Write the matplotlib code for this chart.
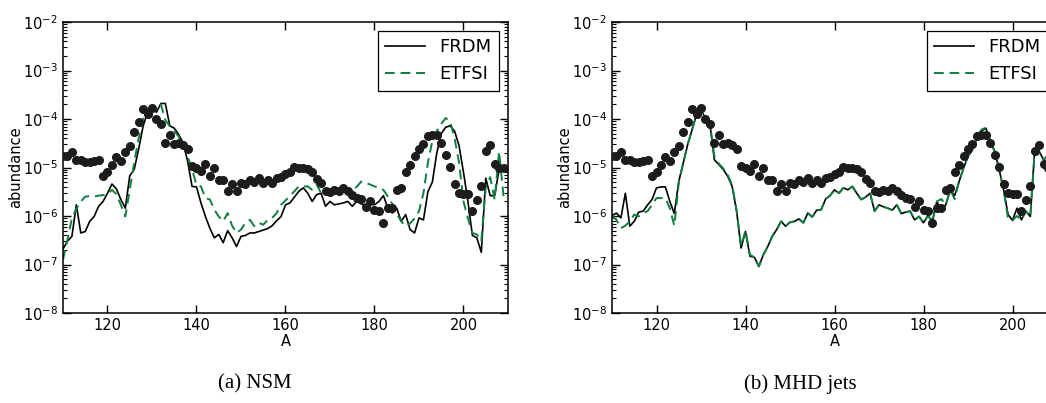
import matplotlib
matplotlib.use("Agg")
import matplotlib.pyplot as plt
import numpy as np
from matplotlib.ticker import LogLocator, NullFormatter

params = {
    "font.family": "DejaVu Sans",
    "font.size": 10.5,
    "xtick.direction": "in",
    "ytick.direction": "in",
    "xtick.top": True,
    "ytick.right": True,
    "axes.linewidth": 1.1,
}
plt.rcParams.update(params)

# mass numbers
A = list(range(110, 210))

# solar r-process abundances (log10)
log_solar = [
    -4.77, -4.77, -4.69, -4.84, -4.84, -4.89, -4.89, -4.87, -4.84, -5.18,
    -5.09, -4.94, -4.79, -4.86, -4.68, -4.56, -4.27, -4.06, -3.79, -3.89,
    -3.77, -4.00, -4.10, -4.49, -4.32, -4.51, -4.50, -4.53, -4.62, -4.96,
    -5.02, -5.07, -4.92, -5.17, -5.01, -5.26, -5.26, -5.49, -5.35, -5.49,
    -5.31, -5.35, -5.26, -5.29, -5.22, -5.31, -5.25, -5.32, -5.22, -5.20,
    -5.13, -5.10, -4.98, -5.01, -5.02, -5.04, -5.10, -5.24, -5.31, -5.49,
    -5.51, -5.46, -5.49, -5.42, -5.49, -5.56, -5.63, -5.65, -5.82, -5.70,
    -5.88, -5.90, -6.14, -5.84, -5.84, -5.46, -5.42, -5.10, -4.94, -4.77,
    -4.62, -4.52, -4.36, -4.34, -4.32, -4.49, -4.74, -4.99, -5.35, -5.53,
    -5.54, -5.55, -5.90, -5.66, -5.39, -4.65, -4.54, -4.93, -5.02, -5.01,
]

# (a) NSM
log_nsm_frdm = [
    -6.68, -6.52, -6.42, -5.77, -6.35, -6.32, -6.11, -6.01, -5.80, -5.70,
    -5.53, -5.34, -5.44, -5.66, -5.84, -5.17, -5.04, -4.62, -4.15, -3.86,
    -3.77, -3.86, -3.68, -3.68, -4.14, -4.19, -4.32, -4.49, -4.87, -5.39,
    -5.40, -5.73, -6.01, -6.25, -6.45, -6.38, -6.55, -6.30, -6.45, -6.63,
    -6.42, -6.40, -6.35, -6.35, -6.32, -6.29, -6.26, -6.20, -6.10, -6.01,
    -5.77, -5.73, -5.61, -5.49, -5.42, -5.53, -5.70, -5.56, -5.53, -5.80,
    -5.70, -5.77, -5.75, -5.73, -5.70, -5.80, -5.70, -5.75, -5.79, -5.73,
    -5.77, -5.70, -5.58, -5.84, -5.94, -5.84, -6.11, -5.97, -6.28, -6.35,
    -6.04, -6.08, -5.50, -5.30, -4.70, -4.30, -4.17, -4.14, -4.25, -4.55,
    -5.10, -5.70, -6.40, -6.45, -6.75, -5.22, -5.58, -5.58, -5.04, -5.01,
]
log_nsm_etfsi = [
    -6.90, -6.49, -6.05, -5.85, -5.70, -5.60, -5.59, -5.60, -5.58, -5.57,
    -5.55, -5.46, -5.55, -5.77, -6.01, -5.46, -4.90, -4.40, -4.00, -3.85,
    -3.80, -3.75, -3.70, -4.02, -4.15, -4.25, -4.36, -4.56, -4.77, -5.04,
    -5.36, -5.39, -5.63, -5.66, -5.87, -6.01, -6.11, -5.94, -6.20, -6.35,
    -6.28, -6.14, -6.08, -6.21, -6.14, -6.18, -6.08, -6.04, -5.94, -5.77,
    -5.68, -5.59, -5.49, -5.39, -5.39, -5.39, -5.46, -5.35, -5.53, -5.46,
    -5.46, -5.46, -5.49, -5.46, -5.46, -5.46, -5.40, -5.29, -5.32, -5.35,
    -5.39, -5.42, -5.46, -5.60, -5.75, -5.95, -6.11, -6.21, -6.15, -6.05,
    -5.90, -5.53, -4.90, -4.45, -4.25, -4.10, -3.98, -4.05, -4.40, -4.90,
    -5.70, -6.05, -6.35, -6.38, -6.52, -5.40, -5.20, -5.66, -4.67, -5.60,
]

# (b) MHD jets
log_mhd_frdm = [
    -5.99, -5.94, -6.04, -5.53, -6.21, -6.11, -5.92, -5.90, -5.77, -5.66,
    -5.42, -5.40, -5.40, -5.70, -5.95, -5.29, -4.91, -4.53, -4.22, -3.91,
    -3.82, -3.98, -4.10, -4.84, -4.94, -5.04, -5.18, -5.39, -5.90, -6.66,
    -6.32, -6.83, -6.85, -7.04, -6.80, -6.63, -6.42, -6.28, -6.11, -6.21,
    -6.13, -6.11, -6.06, -6.14, -5.94, -6.02, -5.88, -5.87, -5.65, -5.58,
    -5.46, -5.53, -5.42, -5.46, -5.39, -5.53, -5.66, -5.61, -5.53, -5.90,
    -5.77, -5.81, -5.84, -5.88, -5.77, -5.95, -5.92, -5.90, -6.08, -6.01,
    -6.14, -5.99, -6.11, -5.70, -5.88, -5.77, -5.46, -5.58, -5.29, -5.01,
    -4.77, -4.63, -4.40, -4.25, -4.19, -4.45, -4.67, -5.04, -5.46, -5.97,
    -6.09, -5.84, -6.08, -5.90, -6.01, -4.63, -4.67, -4.84, -4.75, -4.80,
]
log_mhd_etfsi = [
    -6.00, -6.08, -6.25, -6.20, -6.11, -5.97, -6.01, -5.94, -5.90, -5.77,
    -5.63, -5.63, -5.63, -5.84, -6.20, -5.32, -4.91, -4.53, -4.22, -3.91,
    -3.82, -3.98, -4.10, -4.77, -4.92, -5.02, -5.15, -5.36, -5.88, -6.62,
    -6.30, -6.80, -6.85, -7.04, -6.80, -6.63, -6.42, -6.28, -6.11, -6.21,
    -6.13, -6.11, -6.06, -6.14, -5.94, -6.02, -5.88, -5.87, -5.65, -5.58,
    -5.46, -5.53, -5.42, -5.46, -5.39, -5.53, -5.66, -5.61, -5.53, -5.90,
    -5.77, -5.81, -5.84, -5.88, -5.77, -5.95, -5.92, -5.90, -6.08, -6.01,
    -6.14, -5.99, -6.11, -5.70, -5.65, -5.77, -5.46, -5.65, -5.29, -5.01,
    -4.77, -4.63, -4.40, -4.22, -4.18, -4.45, -4.67, -5.04, -5.46, -6.05,
    -6.09, -6.00, -6.08, -5.90, -6.01, -4.63, -4.67, -4.84, -4.75, -4.80,
]

captions = ["(a) NSM", "(b) MHD jets"]
caption_x = [255, 800]  # pixel centres of the sub-captions
green = "#0f7f3f"

W, H = 1046, 403
fig = plt.figure(figsize=(W / 100, H / 100), dpi=100)
# axes boxes in pixels: left, top, width, height (right one runs off the page)
boxes = [(63, 22, 445, 291), (612, 22, 445, 291)]
panels = [(log_nsm_frdm, log_nsm_etfsi), (log_mhd_frdm, log_mhd_etfsi)]

for (x0, y0, w, h), (frdm, etfsi), cap, cx in zip(boxes, panels, captions, caption_x):
    ax = fig.add_axes([x0 / W, 1 - (y0 + h) / H, w / W, h / H])
    ax.plot(A, 10 ** np.array(frdm), color="black", lw=1.2, label="FRDM")
    ax.plot(A, 10 ** np.array(etfsi), color=green, lw=1.4, dashes=(5, 3),
            label="ETFSI")
    ax.plot(A, 10 ** np.array(log_solar), "o", color="#1c1c1c", ms=5.5,
            mec="#1c1c1c", zorder=3)
    ax.set_yscale("log")
    ax.set_xlim(110, 210)
    ax.set_ylim(1e-8, 1e-2)
    ax.set_xticks([120, 140, 160, 180, 200])
    ax.yaxis.set_major_locator(LogLocator(base=10, numticks=10))
    ax.yaxis.set_minor_locator(LogLocator(base=10, subs=np.arange(2, 10), numticks=10))
    ax.yaxis.set_minor_formatter(NullFormatter())
    ax.tick_params(which="major", length=6, width=1)
    ax.tick_params(which="minor", length=3, width=0.8)
    ax.set_xlabel("A", labelpad=1)
    ax.set_ylabel("abundance", labelpad=0)
    leg = ax.legend(loc="upper right", fontsize=13, fancybox=False,
                    framealpha=1, edgecolor="black", handlelength=2.2,
                    borderaxespad=0.5)
    leg.get_frame().set_linewidth(0.9)
    fig.text(cx / W, 1 - 384 / H, cap, ha="center", va="center",
             fontsize=15, family="Liberation Serif")

fig.savefig("out.png", dpi=100)
